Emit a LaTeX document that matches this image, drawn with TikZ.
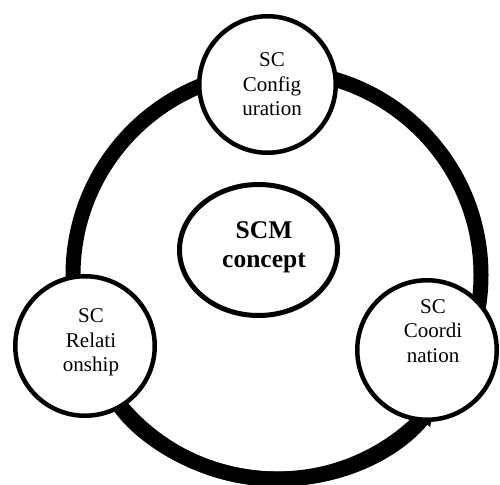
\documentclass[tikz,border=0pt]{standalone}
\usepackage{fontspec}
\setmainfont{Liberation Serif}
\usetikzlibrary{arrows.meta,shapes.geometric}
\begin{document}
\begin{tikzpicture}[x=1pt,y=-1pt,
  ringline/.style={line width=15pt},
  bubble/.style={circle,draw,line width=4.5pt,fill=white,inner sep=0pt},
  bubbletext/.style={align=center,font=\fontsize{21}{24.5}\selectfont,inner sep=0pt},
  core/.style={ellipse,draw,line width=5pt,fill=white,inner sep=0pt,
    minimum width=158pt,minimum height=131pt},
  coretext/.style={align=center,font=\bfseries\fontsize{25.5}{29}\selectfont,inner sep=0pt}
]
\useasboundingbox (0,0) rectangle (500,484);

% the thick cycle ring
\coordinate (ring) at (277,275);
\draw[ringline] (ring) circle[radius=204pt];
% lower segment with its arrow heads tucked under the side circles
\draw[ringline,{Triangle[length=18pt,width=21pt]}-{Triangle[length=18pt,width=21pt]}]
  ([shift={(320:204pt)}]ring) arc[start angle=320,end angle=214.5,radius=204pt];

% circles sitting on the ring
\node[bubble,minimum size=136.5pt] (cfg) at (267.5,84.5) {};
\node[bubble,minimum size=139.5pt] (rel) at (85,346) {};
\node[bubble,minimum size=139.5pt] (coo) at (427,350) {};
\node[core] (scm) at (258.5,250) {};

% labels
\node[bubbletext] (cfgtext) at (272,84.5) {SC\\Config\\uration};
\node[bubbletext] (reltext) at (91,342.5) {SC\\Relati\\onship};
\node[bubbletext] (cootext) at (433,331) {SC\\Coordi\\nation};
\node[coretext] (scmtext) at (264,247.5) {SCM\\concept};
\end{tikzpicture}
\end{document}
